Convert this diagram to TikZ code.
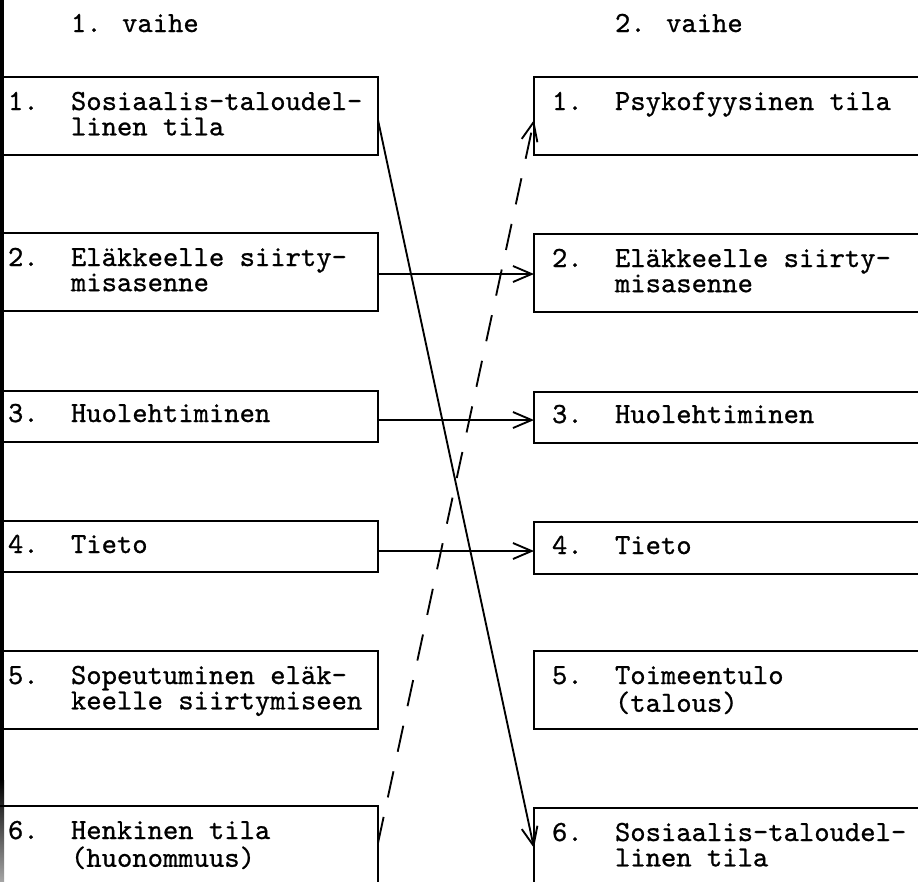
\documentclass[tikz,border=0pt]{standalone}
\usepackage{fontspec}
\newfontfamily\typewriter{lmmono10-regular.otf}[BoldFont=lmmono10-regular.otf, BoldFeatures={FakeBold=0.8}]
\usetikzlibrary{arrows.meta}
\newcommand\twolines[2]{\begin{tabular}[t]{@{}l@{}}#1\\#2\end{tabular}}
\begin{document}
\begin{tikzpicture}[x=0.75pt,y=-0.75pt,
  every node/.style={inner sep=0pt, outer sep=0pt},
  box/.style={draw, line width=1.4pt, rectangle, minimum height=#1},
  lbox/.style={box=#1, minimum width=291pt},
  rbox/.style={box=#1, minimum width=297pt},
  txt/.style={anchor=base west,
    font=\typewriter\bfseries\fontsize{21.9}{18.75}\selectfont},
  link/.style={line width=1.4pt, -{Straight Barb[length=14pt,width=12pt,line width=1.4pt]}},
  weak/.style={link, dash pattern=on 20pt off 15pt}]
\useasboundingbox (0,0) rectangle (918,882);
\clip (0,0) rectangle (918,882);
\fill[white] (0,0) rectangle (918,882);

% dark scan edge on the left
\fill[black] (0,0) rectangle (4,780);
\shade[top color=black, bottom color=gray!70] (0,780) rectangle (4,882);

% column headings
\node[txt] (h1) at (71,32) {1. vaihe};
\node[txt] (h2) at (615,32) {2. vaihe};

% phase 1 boxes
\node[lbox=58.5pt]  (L1) at (184,116) {};
\node[lbox=58.5pt]  (L2) at (184,272) {};
\node[lbox=38.25pt] (L3) at (184,416.5) {};
\node[lbox=38.25pt] (L4) at (184,546.5) {};
\node[lbox=58.5pt]  (L5) at (184,690) {};
\node[lbox=70.5pt]  (L6) at (184,853) {};

% phase 2 boxes
\node[rbox=58.5pt]  (R1) at (732,116) {};
\node[rbox=58.5pt]  (R2) at (732,273) {};
\node[rbox=38.25pt] (R3) at (732,417.5) {};
\node[rbox=39pt]    (R4) at (732,548) {};
\node[rbox=58.5pt]  (R5) at (732,690) {};
\node[rbox=69pt]    (R6) at (732,854) {};

% phase 1 texts
\node[txt] (l1n) at (8,110) {1.};
\node[txt] (l1a) at (71,110) {\twolines{Sosiaalis-taloudel-}{linen tila}};
\node[txt] (l2n) at (8,266) {2.};
\node[txt] (l2a) at (71,266) {\twolines{Eläkkeelle siirty-}{misasenne}};
\node[txt] (l3n) at (8,422) {3.};
\node[txt] (l3a) at (71,422) {Huolehtiminen};
\node[txt] (l4n) at (8,553) {4.};
\node[txt] (l4a) at (71,553) {Tieto};
\node[txt] (l5n) at (8,684) {5.};
\node[txt] (l5a) at (71,684) {\twolines{Sopeutuminen eläk-}{keelle siirtymiseen}};
\node[txt] (l6n) at (8,839) {6.};
\node[txt] (l6a) at (71,839) {\twolines{Henkinen tila}{(huonommuus)}};

% phase 2 texts
\node[txt] (r1n) at (552,110) {1.};
\node[txt] (r1a) at (615,110) {Psykofyysinen tila};
\node[txt] (r2n) at (552,267) {2.};
\node[txt] (r2a) at (615,267) {\twolines{Eläkkeelle siirty-}{misasenne}};
\node[txt] (r3n) at (552,423) {3.};
\node[txt] (r3a) at (615,423) {Huolehtiminen};
\node[txt] (r4n) at (552,554) {4.};
\node[txt] (r4a) at (615,554) {Tieto};
\node[txt] (r5n) at (552,684) {5.};
\node[txt] (r5a) at (615,684) {\twolines{Toimeentulo}{(talous)}};
\node[txt] (r6n) at (552,841) {6.};
\node[txt] (r6a) at (615,841) {\twolines{Sosiaalis-taloudel-}{linen tila}};

% connections between the phases
\draw[link] ([yshift=-1.5pt]L2.east) -- ([yshift=-0.75pt]R2.west);
\draw[link] ([yshift=-2.6pt]L3.east) -- ([yshift=-1.9pt]R3.west);
\draw[link] ([yshift=-3.4pt]L4.east) -- ([yshift=-2.25pt]R4.west);
\draw[link] ([yshift=-3pt]L1.east) -- ([yshift=4.5pt]R6.west);
\draw[weak] ([yshift=7.5pt]L6.east) -- ([yshift=-3pt]R1.west);
\end{tikzpicture}
\end{document}
